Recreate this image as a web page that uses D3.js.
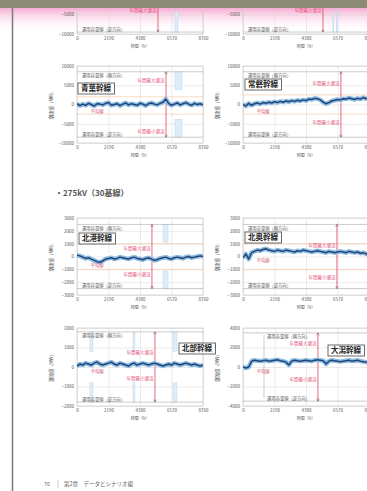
<!DOCTYPE html>
<meta charset="utf-8">
<script src="https://d3js.org/d3.v7.min.js"></script>
<style>
  body { margin: 0; background: #fff; }
  svg text { font-family: "Noto Sans CJK JP", "Noto Sans", sans-serif; }
</style>
<div id="page"></div>
<script>

// hours of the year on every x axis
var hourTicks = [0, 2190, 4380, 6570, 8760];

// one entry per panel: top row (cut off), 500kV row, two 275kV rows
var lineNames = ["", "", "青葉幹線", "常磐幹線", "北港幹線", "北奥幹線", "北部幹線", "大潟幹線"];

var yTicks = [
  [10000, 5000, 0, -5000, -10000],
  [10000, 5000, 0, -5000, -10000],
  [10000, 5000, 0, -5000, -10000],
  [10000, 5000, 0, -5000, -10000],
  [3000, 2000, 1000, 0, -1000, -2000, -3000],
  [3000, 2000, 1000, 0, -1000, -2000, -3000],
  [2000, 1000, 0, -1000, -2000],
  [4000, 2000, 0, -2000, -4000]
];

// operating capacity (MW), forward / reverse
var capacity = [9500, 9500, 8500, 8500, 2500, 2500, 1800, 3500];
// light orange reference lines
var refLines = [[], [], [2000, -2500], [2500, -2500], [1000, -1000], [1000, -1000], [], []];
// hour of the annual peak (red line) and where its two notes sit
var peakHour = [5630, 5560, 6190, 6810, 5210, 6530, 5420, 5210];
var peakNoteHigh = [-4100, -4100, 6150, 5400, 660, 820, 720, 2460];
var peakNoteLow = [null, null, -6900, -4600, -1370, -1600, -615, -1330];
var meanNote = [null, null, -1800, -1800, -740, -300, -250, -510];
// outage periods (light blue bands)
var outages = [
  [[6810, 7020]],
  [[6250, 6310], [6480, 6540]],
  [[6810, 7300]],
  [],
  [[5980, 6330]],
  [],
  [[900, 1110], [3890, 4030], [6670, 6950]],
  []
];

// flow values, evenly spread over the year
var flow2L = [200,-300,100,-200,300,0,-400,200,100,-100,300,500,-200,0,200,-300,100,400,-100,200,0,-200,300,100,-300,200,400,100,-100,300,600,1400,300,-200,100,400,-100,200,500,100,-200,300,0,200,-100];
var flow2R = [0,-400,300,-200,200,400,100,500,300,600,400,700,500,800,600,900,700,1000,800,1100,900,1200,1000,1400,1300,1600,1500,1200,600,200,500,900,1100,1300,1200,1500,1400,1700,1500,1300,1600,1400,1800,1500,1600];
var flow3L = [100,50,-50,-150,-100,-200,-300,-400,-450,-350,-200,-150,-100,-200,-150,-50,-100,-150,-200,-100,-50,-150,-200,-250,-150,-100,-200,-300,-250,-150,-100,-50,-150,-200,-100,-50,-100,-150,-50,0,-100,-50,0,50,0];
var flow3R = [-100,200,-200,300,400,500,450,550,600,500,450,400,500,450,400,500,450,400,350,450,400,500,450,400,350,400,450,400,350,300,400,350,300,350,400,350,300,400,350,300,350,250,300,200,150];
var flow4L = [50,150,100,200,150,100,200,250,150,100,150,200,250,150,100,200,150,100,50,150,200,100,150,200,150,100,150,200,150,100,50,100,150,100,200,150,100,150,200,150,100,150,100,50,100];
var flow4R = [0,-100,0,600,700,650,600,650,700,600,650,700,750,650,600,500,200,600,700,650,600,650,700,650,600,700,750,700,650,300,600,700,650,600,550,600,650,700,600,650,700,600,550,500,400];
var flows = [[], [], flow2L, flow2R, flow3L, flow3R, flow4L, flow4R];

// page layout
var W = 367, H = 491, plotW = 126;
var panels = [
  {x: 77, top: -44, bottom: 34},
  {x: 243, top: -44, bottom: 34},
  {x: 77, top: 66, bottom: 143, box: [78, 83]},
  {x: 243, top: 66, bottom: 143, box: [245, 79]},
  {x: 77, top: 218, bottom: 295, box: [79, 233]},
  {x: 243, top: 218, bottom: 295, box: [245, 232]},
  {x: 77, top: 328, bottom: 406, box: [179, 343]},
  {x: 243, top: 328, bottom: 406, box: [328, 345], capDx: 19}
];

var svg = d3.select("#page").append("svg")
  .attr("width", W).attr("height", H);

var defs = svg.append("defs");
var grad = defs.append("linearGradient").attr("id", "pink")
  .attr("x1", 0).attr("y1", 0).attr("x2", 0).attr("y2", 1);
grad.append("stop").attr("offset", "0%").attr("stop-color", "#f6acd3");
grad.append("stop").attr("offset", "100%").attr("stop-color", "#fff").attr("stop-opacity", 0);

svg.append("rect").attr("x", 0).attr("y", 8).attr("width", W).attr("height", 24)
  .attr("fill", "url(#pink)");

panels.forEach(function(p, i) {
  var g = svg.append("g");
  var ticks = yTicks[i];
  var x = d3.scaleLinear().domain([0, 8760]).range([p.x, p.x + plotW]);
  var y = d3.scaleLinear().domain([ticks[ticks.length - 1], ticks[0]]).range([p.bottom, p.top]);
  var h = p.bottom - p.top;

  // grid + tick labels (only the ticks below the page header)
  var shown = ticks.filter(function(t) { return y(t) > 10; });
  var ya = g.append("g").attr("transform", "translate(" + p.x + ",0)")
    .call(d3.axisLeft(y).tickValues(shown).tickSize(-plotW).tickPadding(3).tickFormat(d3.format("d")));
  var xa = g.append("g").attr("transform", "translate(0," + p.bottom + ")")
    .call(d3.axisBottom(x).tickValues(hourTicks).tickSize(-(p.bottom - Math.max(p.top, 8))).tickPadding(3).tickFormat(d3.format("d")));
  [ya, xa].forEach(function(a) {
    a.select(".domain").remove();
    a.selectAll("line").attr("stroke", "#d6d6d6").attr("stroke-width", 0.5);
    a.selectAll("text").attr("font-size", 4.5).attr("fill", "#555");
  });
  g.append("rect").attr("x", p.x).attr("y", p.top).attr("width", plotW).attr("height", h)
    .attr("fill", "none").attr("stroke", "#c4c4c4").attr("stroke-width", 0.6);

  // axis titles
  g.append("text").attr("x", p.x + plotW / 2).attr("y", p.bottom + 14)
    .attr("text-anchor", "middle").attr("font-size", 4).attr("fill", "#555").text("時間（h）");
  if (p.top > 0) {
    g.append("text")
      .attr("transform", "translate(" + (p.x - 24) + "," + (p.top + h / 2) + ") rotate(-90)")
      .attr("text-anchor", "middle").attr("font-size", 4.5).attr("fill", "#444").text("潮流値（MW）");
  }

  var clip = "clip" + i;
  defs.append("clipPath").attr("id", clip).append("rect")
    .attr("x", p.x).attr("y", p.top).attr("width", plotW).attr("height", h);
  var inner = g.append("g").attr("clip-path", "url(#" + clip + ")");

  // reference lines
  refLines[i].forEach(function(v) {
    inner.append("line").attr("x1", p.x).attr("x2", p.x + plotW)
      .attr("y1", y(v)).attr("y2", y(v))
      .attr("stroke", "#f7c9a8").attr("stroke-width", 0.7);
  });

  // outage bands
  var cap = capacity[i];
  outages[i].forEach(function(o) {
    [[cap, cap * 0.45], [-cap * 0.45, -cap]].forEach(function(r) {
      inner.append("rect").attr("x", x(o[0])).attr("width", Math.max(1, x(o[1]) - x(o[0])))
        .attr("y", y(r[0])).attr("height", y(r[1]) - y(r[0]))
        .attr("fill", "#deecf8").attr("stroke", "#b4d2ec").attr("stroke-width", 0.4);
    });
  });

  // operating capacity lines and notes
  [cap, -cap].forEach(function(v) {
    inner.append("line").attr("x1", p.x).attr("x2", p.x + plotW)
      .attr("y1", y(v)).attr("y2", y(v))
      .attr("stroke", "#a8a8a8").attr("stroke-width", 0.6);
  });
  var cx = p.x + 5 + (p.capDx || 0);
  if (y(cap) > 10) {
    g.append("text").attr("x", cx).attr("y", y(cap) + 5.5)
      .attr("font-size", 4.3).attr("fill", "#555").text("運用容量値（順方向）");
  }
  g.append("text").attr("x", cx).attr("y", y(-cap) - 1.5)
    .attr("font-size", 4.3).attr("fill", "#555").text("運用容量値（逆方向）");
  if (p.capDx) {
    g.append("line").attr("x1", cx - 3).attr("x2", cx - 3)
      .attr("y1", y(cap) + 2).attr("y2", y(-cap) - 3)
      .attr("stroke", "#999").attr("stroke-width", 0.5);
  }

  // annual peak marker
  var px = x(peakHour[i]);
  inner.append("line").attr("x1", px).attr("x2", px)
    .attr("y1", y(cap)).attr("y2", y(-cap))
    .attr("stroke", "#e0455c").attr("stroke-width", 0.8);
  [cap, -cap].forEach(function(v, k) {
    var yy = y(v), d = k === 0 ? 2.5 : -2.5;
    inner.append("path")
      .attr("d", "M" + (px - 1.3) + "," + (yy + d) + "L" + px + "," + yy + "L" + (px + 1.3) + "," + (yy + d))
      .attr("fill", "none").attr("stroke", "#555").attr("stroke-width", 0.5);
  });
  [peakNoteHigh[i], peakNoteLow[i]].forEach(function(v, k) {
    if (v === null) return;
    g.append("text").attr("x", px - 1.5).attr("y", y(v) + 1.5)
      .attr("text-anchor", "end").attr("font-size", 4.5).attr("fill", "#e5527a")
      .text(k === 0 ? "年間最大潮流" : "年間最小潮流");
  });

  // flow line: light halo + dark line
  var vals = flows[i];
  if (vals.length) {
    var step = 8760 / (vals.length - 1);
    var line = d3.line().x(function(d, j) { return x(j * step); }).y(function(d) { return y(d); });
    inner.append("path").datum(vals).attr("d", line)
      .attr("fill", "none").attr("stroke", "#8fbde2").attr("stroke-width", 4.5).attr("stroke-linejoin", "round");
    inner.append("path").datum(vals).attr("d", line)
      .attr("fill", "none").attr("stroke", "#1e4579").attr("stroke-width", 1.5).attr("stroke-linejoin", "round");
  }
  if (meanNote[i] !== null) {
    g.append("text").attr("x", x(950)).attr("y", y(meanNote[i]) + 1.5)
      .attr("font-size", 4.3).attr("fill", "#d04a6a").text("平均値");
  }

  // line-name box
  if (p.box) {
    var bt = g.append("text").attr("x", p.box[0] + 3).attr("y", p.box[1] + 8)
      .attr("font-size", 7.5).attr("font-weight", "bold").attr("fill", "#222").text(lineNames[i]);
    var bb = bt.node().getBBox();
    g.insert("rect", function() { return bt.node(); })
      .attr("x", p.box[0]).attr("y", p.box[1]).attr("width", bb.width + 6).attr("height", 11)
      .attr("fill", "#fff").attr("stroke", "#444").attr("stroke-width", 0.8);
  }
});

// section heading
svg.append("text").attr("x", 55).attr("y", 196).attr("font-size", 8).attr("font-weight", "bold")
  .attr("fill", "#555").text("・275kV（30基線）");

// page frame
svg.append("rect").attr("x", 0).attr("y", 0).attr("width", W).attr("height", 8).attr("fill", "#8b8a74");
svg.append("line").attr("x1", 12.5).attr("x2", 12.5).attr("y1", 8).attr("y2", H)
  .attr("stroke", "#7a7a7a").attr("stroke-width", 1.5);

// footer
svg.append("text").attr("x", 44).attr("y", 486).attr("font-size", 5.5).attr("fill", "#666").text("76");
svg.append("line").attr("x1", 58).attr("x2", 58).attr("y1", 480).attr("y2", 488)
  .attr("stroke", "#999").attr("stroke-width", 0.5);
svg.append("text").attr("x", 64).attr("y", 486).attr("font-size", 5.5).attr("fill", "#666")
  .text("第2章　データとシナリオ編");

</script>
